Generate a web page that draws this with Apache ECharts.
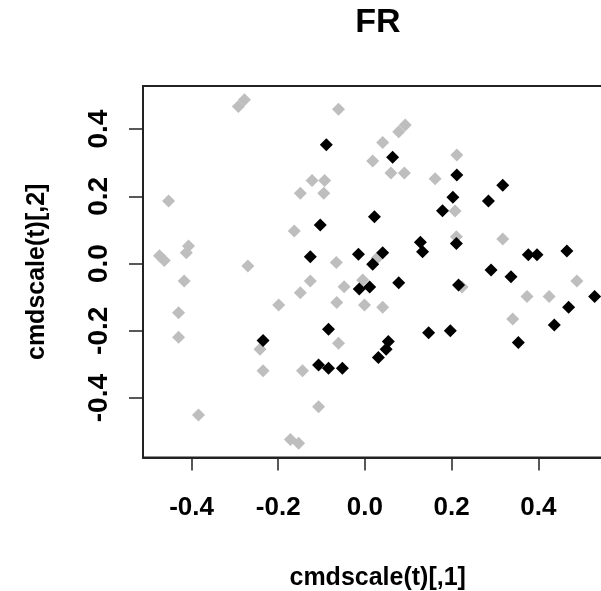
<!DOCTYPE html>
<html>
<head>
<meta charset="utf-8">
<script src="https://cdn.jsdelivr.net/npm/echarts@6/dist/echarts.min.js"></script>
<style>html,body{margin:0;padding:0;background:#fff;overflow:hidden;width:601px;height:591px}#c{width:640px;height:591px}</style>
</head>
<body>
<div id="c"></div>
<script>
const titleText = "FR";
const xName = "cmdscale(t)[,1]";
const yName = "cmdscale(t)[,2]";
const xTicks = [-0.4, -0.2, 0.0, 0.2, 0.4];
const yTicks = [-0.4, -0.2, 0.0, 0.2, 0.4];

const grayX = [-0.292,-0.278,-0.061,-0.122,-0.093,-0.149,-0.095,-0.453,-0.163,-0.407,-0.412,-0.474,-0.463,-0.270,-0.066,
  0.078,0.093,0.041,0.018,0.212,0.060,0.091,0.162,0.208,0.211,0.318,0.028,-0.005,-0.001,0.041,0.224,0.489,0.374,0.425,0.341,
  -0.417,-0.126,-0.048,-0.149,-0.199,-0.065,-0.430,-0.430,-0.242,-0.061,-0.235,-0.144,-0.107,-0.384,-0.172,-0.153];
const grayY = [0.467,0.487,0.459,0.247,0.247,0.209,0.209,0.186,0.097,0.052,0.032,0.023,0.009,-0.007,0.003,
  0.392,0.412,0.360,0.305,0.323,0.269,0.269,0.252,0.156,0.080,0.073,0.016,-0.049,-0.123,-0.130,-0.070,-0.052,-0.098,-0.098,-0.165,
  -0.052,-0.052,-0.069,-0.087,-0.123,-0.116,-0.146,-0.219,-0.255,-0.237,-0.319,-0.319,-0.426,-0.450,-0.523,-0.534];

const blackX = [-0.089,-0.103,-0.126,-0.015,0.064,0.212,0.318,0.203,0.285,0.179,0.022,0.211,0.128,0.133,0.041,0.018,
  0.377,0.397,0.466,0.291,0.337,0.216,0.078,0.011,-0.013,0.530,0.470,0.437,0.354,0.147,0.197,0.054,0.049,0.031,
  -0.084,-0.235,-0.107,-0.084,-0.052];
const blackY = [0.353,0.115,0.020,0.028,0.316,0.263,0.233,0.197,0.186,0.157,0.139,0.060,0.063,0.035,0.032,-0.002,
  0.026,0.026,0.037,-0.019,-0.039,-0.064,-0.057,-0.070,-0.076,-0.098,-0.130,-0.183,-0.235,-0.206,-0.200,-0.232,-0.255,-0.279,
  -0.195,-0.229,-0.302,-0.311,-0.311];

const zip = (a, b) => a.map((v, i) => [v, b[i]]);
const FONT = '"Liberation Sans", Arial, sans-serif';

const chart = echarts.init(document.getElementById('c'), null, {renderer: 'canvas'});
chart.setOption({
  animation: false,
  backgroundColor: '#fff',
  grid: {left: 143, top: 86, width: 469.4, height: 371.6, outerBoundsMode: 'none', containLabel: false,
    show: true, borderColor: '#222', borderWidth: 2, backgroundColor: 'transparent'},
  graphic: [{
    type: 'text', x: 378, y: 23,
    style: {text: titleText, font: 'bold 34px ' + FONT, fill: '#000', textAlign: 'center', textVerticalAlign: 'middle'}
  }],
  xAxis: {
    type: 'value', min: -0.512, max: 0.571,
    name: xName, nameLocation: 'middle', nameGap: 108,
    nameTextStyle: {fontFamily: FONT, fontWeight: 'bold', fontSize: 25, color: '#000'},
    axisLine: {show: true, onZero: false, lineStyle: {color: '#222', width: 2}},
    splitLine: {show: false},
    axisTick: {show: true, inside: false, length: 13, customValues: xTicks, lineStyle: {color: '#222', width: 1.5}},
    axisLabel: {customValues: xTicks, margin: 37, fontFamily: FONT, fontWeight: 'bold', fontSize: 26, color: '#000',
      formatter: v => v.toFixed(1)}
  },
  yAxis: {
    type: 'value', min: -0.577, max: 0.528,
    name: yName, nameLocation: 'middle', nameGap: 93, nameRotate: 90,
    nameTextStyle: {fontFamily: FONT, fontWeight: 'bold', fontSize: 25, color: '#000'},
    axisLine: {show: true, onZero: false, lineStyle: {color: '#222', width: 2}},
    splitLine: {show: false},
    axisTick: {show: true, inside: false, length: 14, customValues: yTicks, lineStyle: {color: '#222', width: 1.5}},
    axisLabel: {customValues: yTicks, rotate: 90, margin: 30, fontFamily: FONT, fontWeight: 'bold', fontSize: 28, color: '#000',
      formatter: v => v.toFixed(1)}
  },
  series: [
    {type: 'scatter', data: zip(grayX, grayY), symbol: 'diamond', symbolSize: 13, itemStyle: {color: '#bebebe', opacity: 1}, silent: true},
    {type: 'scatter', data: zip(blackX, blackY), symbol: 'diamond', symbolSize: 13, itemStyle: {color: '#000', opacity: 1}, silent: true}
  ]
});
</script>
</body>
</html>
